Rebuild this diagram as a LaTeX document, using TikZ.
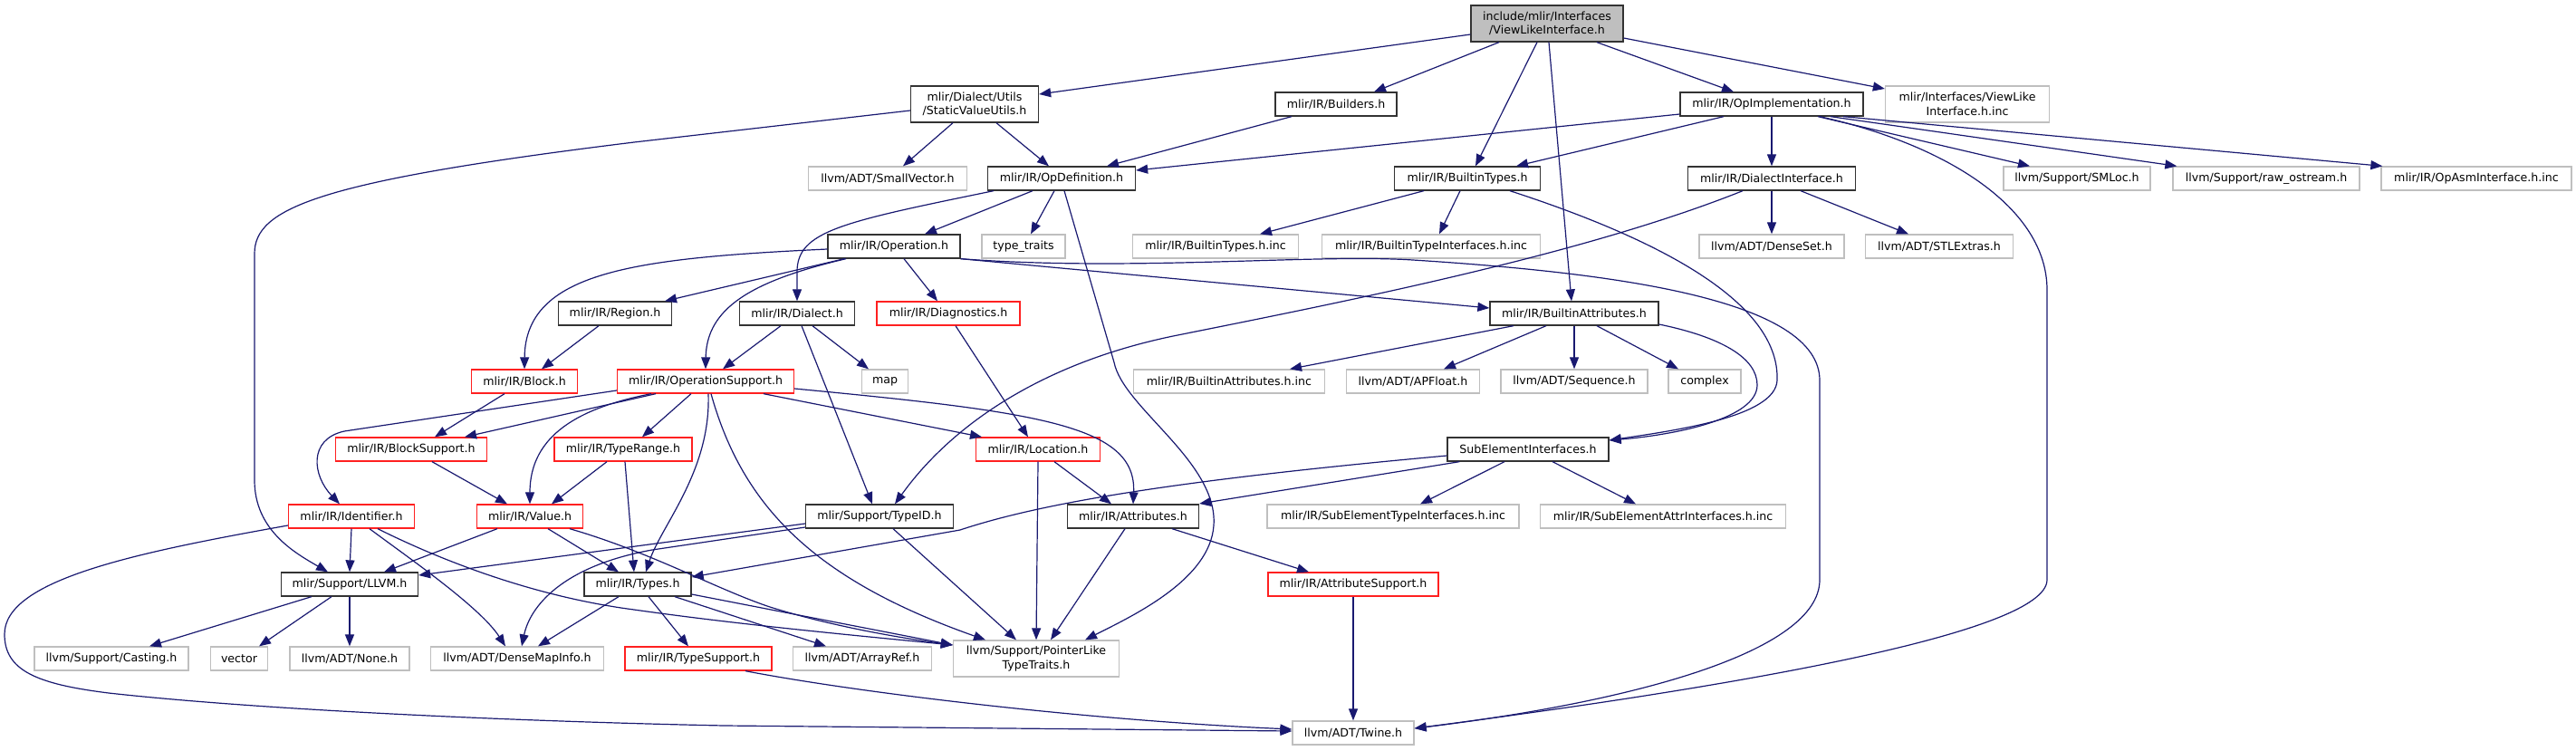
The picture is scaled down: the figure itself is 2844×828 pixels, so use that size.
\documentclass[tikz,border=0pt]{standalone}
\usepackage{fontspec}
\setmainfont{DejaVu Sans}
\usepackage{tikz}
\usetikzlibrary{arrows.meta}
\usepackage{xcolor}
\definecolor{edgeblue}{HTML}{191970}
\definecolor{docframe}{HTML}{333333}
\definecolor{extframe}{HTML}{BFBFBF}
\definecolor{cutframe}{HTML}{FF2020}
\definecolor{rootfill}{HTML}{BFBFBF}

\begin{document}
\begin{tikzpicture}[
  x=1pt, y=-1pt,
  hdrbox/.style={draw, fill=white, inner sep=0pt, minimum height=26pt, align=center, font=\fontsize{12.6}{15.5}\selectfont, line width=1.3pt},
  docbox/.style={hdrbox, draw=docframe},
  extbox/.style={hdrbox, draw=extframe},
  cutbox/.style={hdrbox, draw=cutframe},
  rootbox/.style={hdrbox, draw=docframe, fill=rootfill, minimum height=40pt},
  dep/.style={-{Triangle[length=13pt,width=10pt]}, draw=edgeblue, fill=none, line width=1.2pt}
]
  \useasboundingbox (0,0) rectangle (2844,828);

  \node[rootbox, minimum width=168pt] (vli) at (1708,26) {include/mlir/Interfaces\\/ViewLikeInterface.h};

  \node[docbox, minimum width=141pt, minimum height=40pt] (svu) at (1076,115) {mlir/Dialect/Utils\\/StaticValueUtils.h};
  \node[docbox, minimum width=134pt] (bld) at (1475,115) {mlir/IR/Builders.h};
  \node[docbox, minimum width=202pt] (opi) at (1956,115) {mlir/IR/OpImplementation.h};
  \node[extbox, minimum width=181pt, minimum height=40pt] (vinc) at (2172,115) {mlir/Interfaces/ViewLike\\Interface.h.inc};

  \node[extbox, minimum width=175pt] (svec) at (980,197) {llvm/ADT/SmallVector.h};
  \node[docbox, minimum width=163pt] (opdef) at (1172,197) {mlir/IR/OpDefinition.h};
  \node[docbox, minimum width=161pt] (bty) at (1620,197) {mlir/IR/BuiltinTypes.h};
  \node[docbox, minimum width=185pt] (dint) at (1956,197) {mlir/IR/DialectInterface.h};
  \node[extbox, minimum width=162pt] (smloc) at (2293,197) {llvm/Support/SMLoc.h};
  \node[extbox, minimum width=206pt] (rawos) at (2502,197) {llvm/Support/raw\_ostream.h};
  \node[extbox, minimum width=210pt] (opasm) at (2734,197) {mlir/IR/OpAsmInterface.h.inc};

  \node[docbox, minimum width=146pt] (oper) at (987,272) {mlir/IR/Operation.h};
  \node[extbox, minimum width=92pt] (ttraits) at (1130,272) {type\_traits};
  \node[extbox, minimum width=183pt] (btyinc) at (1342,272) {mlir/IR/BuiltinTypes.h.inc};
  \node[extbox, minimum width=241pt] (btyiinc) at (1580,272) {mlir/IR/BuiltinTypeInterfaces.h.inc};
  \node[extbox, minimum width=160pt] (dset) at (1956,272) {llvm/ADT/DenseSet.h};
  \node[extbox, minimum width=163pt] (stlx) at (2141,272) {llvm/ADT/STLExtras.h};

  \node[docbox, minimum width=125pt] (region) at (679,346) {mlir/IR/Region.h};
  \node[docbox, minimum width=127pt] (dialect) at (880,346) {mlir/IR/Dialect.h};
  \node[cutbox, minimum width=158pt] (diag) at (1047,346) {mlir/IR/Diagnostics.h};
  \node[docbox, minimum width=186pt] (batt) at (1738,346) {mlir/IR/BuiltinAttributes.h};

  \node[cutbox, minimum width=117pt] (block) at (579,421) {mlir/IR/Block.h};
  \node[cutbox, minimum width=195pt] (opsup) at (779,421) {mlir/IR/OperationSupport.h};
  \node[extbox, minimum width=51pt] (map) at (977,421) {map};
  \node[extbox, minimum width=211pt] (battinc) at (1357,421) {mlir/IR/BuiltinAttributes.h.inc};
  \node[extbox, minimum width=147pt] (apf) at (1560,421) {llvm/ADT/APFloat.h};
  \node[extbox, minimum width=162pt] (seq) at (1738,421) {llvm/ADT/Sequence.h};
  \node[extbox, minimum width=80pt] (cplx) at (1882,421) {complex};

  \node[cutbox, minimum width=167pt] (blsup) at (454,496) {mlir/IR/BlockSupport.h};
  \node[cutbox, minimum width=152pt] (trange) at (688,496) {mlir/IR/TypeRange.h};
  \node[cutbox, minimum width=137pt] (loc) at (1146,496) {mlir/IR/Location.h};
  \node[docbox, minimum width=178pt] (subel) at (1687,496) {SubElementInterfaces.h};

  \node[cutbox, minimum width=139pt] (ident) at (388,570) {mlir/IR/Identifier.h};
  \node[cutbox, minimum width=117pt] (value) at (585,570) {mlir/IR/Value.h};
  \node[docbox, minimum width=163pt] (typeid) at (971,570) {mlir/Support/TypeID.h};
  \node[docbox, minimum width=145pt] (attrs) at (1251,570) {mlir/IR/Attributes.h};
  \node[extbox, minimum width=278pt] (subtinc) at (1538,570) {mlir/IR/SubElementTypeInterfaces.h.inc};
  \node[extbox, minimum width=271pt] (subainc) at (1836,570) {mlir/IR/SubElementAttrInterfaces.h.inc};

  \node[docbox, minimum width=151pt] (llvm) at (386,645) {mlir/Support/LLVM.h};
  \node[docbox, minimum width=118pt] (types) at (704,645) {mlir/IR/Types.h};
  \node[cutbox, minimum width=188pt] (attrsup) at (1494,645) {mlir/IR/AttributeSupport.h};

  \node[extbox, minimum width=170pt] (cast) at (123,727) {llvm/Support/Casting.h};
  \node[extbox, minimum width=63pt] (vector) at (264,727) {vector};
  \node[extbox, minimum width=132pt] (none) at (386,727) {llvm/ADT/None.h};
  \node[extbox, minimum width=191pt] (dmi) at (571,727) {llvm/ADT/DenseMapInfo.h};
  \node[cutbox, minimum width=162pt] (tsup) at (771,727) {mlir/IR/TypeSupport.h};
  \node[extbox, minimum width=153pt] (aref) at (952,727) {llvm/ADT/ArrayRef.h};
  \node[extbox, minimum width=183pt, minimum height=40pt] (pltt) at (1144,727) {llvm/Support/PointerLike\\TypeTraits.h};

  \node[extbox, minimum width=134pt] (twine) at (1494,809) {llvm/ADT/Twine.h};

  \draw[dep] ([yshift=-12]vli.west) -- ([yshift=11]svu.east);
  \draw[dep] ([xshift=-53]vli.south) -- ([xshift=42]bld.north);
  \draw[dep] ([xshift=-11]vli.south) -- ([xshift=9]bty.north);
  \draw[dep] ([xshift=2]vli.south) -- ([xshift=-3]batt.north);
  \draw[dep] ([xshift=55]vli.south) -- ([xshift=-42]opi.north);
  \draw[dep] ([yshift=-16]vli.east) -- ([yshift=17]vinc.west);

  \draw[dep] ([xshift=-24]svu.south) -- ([xshift=17]svec.north);
  \draw[dep] ([xshift=24]svu.south) -- ([xshift=-14]opdef.north);
  \draw[dep] ([yshift=-7]svu.west) -- (700,157) .. controls (350,200) and (281,230) .. (281,280) -- (281,530) .. controls (281,585) and (325,610) .. ([xshift=-24]llvm.north);
  \draw[dep] ([xshift=-49]bld.south) -- ([xshift=50]opdef.north);

  \draw[dep] ([yshift=-11]opi.west) -- ([yshift=9]opdef.east);
  \draw[dep] ([xshift=-53]opi.south) -- ([xshift=54]bty.north);
  \draw[dep] (opi.south) -- (dint.north);
  \draw[dep] ([xshift=51]opi.south) -- ([xshift=-52]smloc.north);
  \draw[dep] ([xshift=65]opi.south) -- ([xshift=5]rawos.north west);
  \draw[dep] ([xshift=79]opi.south) -- ([xshift=2]opasm.north west);
  \draw[dep] ([xshift=53]opi.south) .. controls (2150,160) and (2260,230) .. (2260,320) -- (2260,640) .. controls (2260,700) and (1900,760) .. ([yshift=5]twine.east);

  \draw[dep] ([xshift=-32]opdef.south) -- ([xshift=34]oper.north);
  \draw[dep] ([xshift=-8]opdef.south) -- ([xshift=8]ttraits.north);
  \draw[dep] ([xshift=-75]opdef.south) .. controls (930,245) and (880,255) .. (880,300) -- (dialect.north);
  \draw[dep] ([xshift=3]opdef.south) -- (1230,400) .. controls (1240,450) and (1345,510) .. (1340,580) .. controls (1336,640) and (1250,680) .. ([xshift=54]pltt.north);

  \draw[dep] ([xshift=-48]bty.south) -- ([xshift=49]btyinc.north);
  \draw[dep] ([xshift=-8]bty.south) -- ([xshift=9]btyiinc.north);
  \draw[dep] ([xshift=47]bty.south) .. controls (1850,270) and (1965,340) .. (1962,420) .. controls (1960,460) and (1850,475) .. ([yshift=10]subel.east);

  \draw[dep] (dint.south) -- (dset.north);
  \draw[dep] ([xshift=32]dint.south) -- ([xshift=-34]stlx.north);
  \draw[dep] ([xshift=-32]dint.south) .. controls (1750,280) and (1500,330) .. (1300,370) .. controls (1150,400) and (1050,470) .. ([xshift=17]typeid.north);

  \draw[dep] ([xshift=-55]oper.south) -- ([xshift=55]region.north);
  \draw[dep] ([yshift=-3]oper.west) .. controls (700,285) and (580,300) .. (block.north);
  \draw[dep] ([xshift=-53]oper.south) .. controls (830,310) and (780,340) .. (opsup.north);
  \draw[dep] ([xshift=11]oper.south) -- ([xshift=-12]diag.north);
  \draw[dep] (oper.south east) -- ([yshift=6]batt.west);
  \draw[dep] (oper.south east) .. controls (1250,300) and (1450,280) .. (1560,287) .. controls (1780,301) and (2009,330) .. (2009,420) -- (2009,640) .. controls (2009,720) and (1800,775) .. ([yshift=5]twine.east);

  \draw[dep] ([xshift=-18]region.south) -- ([xshift=19]block.north);
  \draw[dep] ([xshift=-18]dialect.south) -- ([xshift=19]opsup.north);
  \draw[dep] ([xshift=17]dialect.south) -- ([xshift=-18]map.north);
  \draw[dep] ([xshift=5]dialect.south) -- ([xshift=-8]typeid.north);
  \draw[dep] ([xshift=8]diag.south) -- ([xshift=-11]loc.north);

  \draw[dep] ([xshift=-67]batt.south) -- ([xshift=67]battinc.north);
  \draw[dep] ([xshift=-31]batt.south) -- ([xshift=34]apf.north);
  \draw[dep] (batt.south) -- (seq.north);
  \draw[dep] ([xshift=25]batt.south) -- ([xshift=-29]cplx.north);
  \draw[dep] ([yshift=-12]batt.east) .. controls (1900,372) and (1940,395) .. (1940,425) .. controls (1940,462) and (1850,480) .. ([yshift=10]subel.east);

  \draw[dep] ([xshift=-22]block.south) -- ([xshift=26]blsup.north);
  \draw[dep] ([xshift=-55]opsup.south) -- ([xshift=59]blsup.north);
  \draw[dep] ([yshift=-10]opsup.west) -- (380,476) .. controls (340,485) and (345,525) .. ([xshift=-13]ident.north);
  \draw[dep] ([xshift=-60]opsup.south) .. controls (640,450) and (585,480) .. (value.north);
  \draw[dep] ([xshift=-16]opsup.south) -- ([xshift=21]trange.north);
  \draw[dep] ([xshift=3]opsup.south) .. controls (785,520) and (730,580) .. ([xshift=9]types.north);
  \draw[dep] ([xshift=6]opsup.south) .. controls (820,560) and (900,640) .. ([xshift=-56]pltt.north);
  \draw[dep] ([xshift=64]opsup.south) -- ([xshift=-62]loc.north);
  \draw[dep] ([yshift=-8]opsup.east) .. controls (1150,455) and (1255,470) .. (attrs.north);

  \draw[dep] ([xshift=-18]trange.south) -- ([xshift=24]value.north);
  \draw[dep] ([xshift=2]trange.south) -- ([xshift=-4]types.north);
  \draw[dep] ([xshift=23]blsup.south) -- ([xshift=-25]value.north);
  \draw[dep] ([xshift=18]loc.south) -- ([xshift=-24]attrs.north);
  \draw[dep] (loc.south) -- (pltt.north);

  \draw[dep] ([xshift=-26]subel.south) -- ([xshift=30]subtinc.north);
  \draw[dep] ([xshift=27]subel.south) -- ([xshift=-30]subainc.north);
  \draw[dep] ([yshift=-7]subel.west) .. controls (1300,530) and (1150,555) .. (1060,585) -- ([yshift=8]types.east);
  \draw[dep] ([xshift=14]subel.south west) -- ([yshift=14]attrs.east);

  \draw[dep] ([xshift=-9]attrs.south) -- ([xshift=16]pltt.north);
  \draw[dep] ([xshift=43]attrs.south) -- ([xshift=-49]attrsup.north);
  \draw[dep] (attrsup.south) -- (twine.north);

  \draw[dep] ([yshift=-8]typeid.west) -- ([yshift=10]llvm.east);
  \draw[dep] ([yshift=-12]typeid.west) -- (720,607) .. controls (620,625) and (585,670) .. ([xshift=5]dmi.north);
  \draw[dep] ([xshift=15]typeid.south) -- ([xshift=-22]pltt.north);

  \draw[dep] (ident.south) -- (llvm.north);
  \draw[dep] ([xshift=20]ident.south) .. controls (450,615) and (530,670) .. ([xshift=-13]dmi.north);
  \draw[dep] ([xshift=29]ident.south) .. controls (500,625) and (600,660) .. (700,673) .. controls (820,690) and (950,702) .. ([yshift=15]pltt.west);
  \draw[dep] ([yshift=-10]ident.west) .. controls (150,610) and (5,640) .. (5,700) .. controls (5,740) and (40,755) .. (120,765) .. controls (300,785) and (600,797) .. (800,801) -- ([yshift=2]twine.west);

  \draw[dep] ([xshift=-36]value.south) -- ([xshift=38]llvm.north);
  \draw[dep] ([xshift=20]value.south) -- ([xshift=-21]types.north);
  \draw[dep] ([xshift=44]value.south) .. controls (720,610) and (790,650) .. (850,670) .. controls (920,692) and (1000,705) .. ([yshift=15]pltt.west);

  \draw[dep] ([xshift=-21]types.south) -- ([xshift=23]dmi.north);
  \draw[dep] ([xshift=12]types.south) -- ([xshift=-11]tsup.north);
  \draw[dep] ([xshift=41]types.south) -- ([xshift=-40]aref.north);
  \draw[dep] ([yshift=-11]types.east) -- ([yshift=15]pltt.west);
  \draw[dep] ([xshift=52]tsup.south) .. controls (950,765) and (1200,795) .. ([yshift=4]twine.west);

  \draw[dep] ([xshift=-42]llvm.south) -- ([xshift=42]cast.north);
  \draw[dep] ([xshift=-20]llvm.south) -- ([xshift=22]vector.north);
  \draw[dep] (llvm.south) -- (none.north);
\end{tikzpicture}
\end{document}
